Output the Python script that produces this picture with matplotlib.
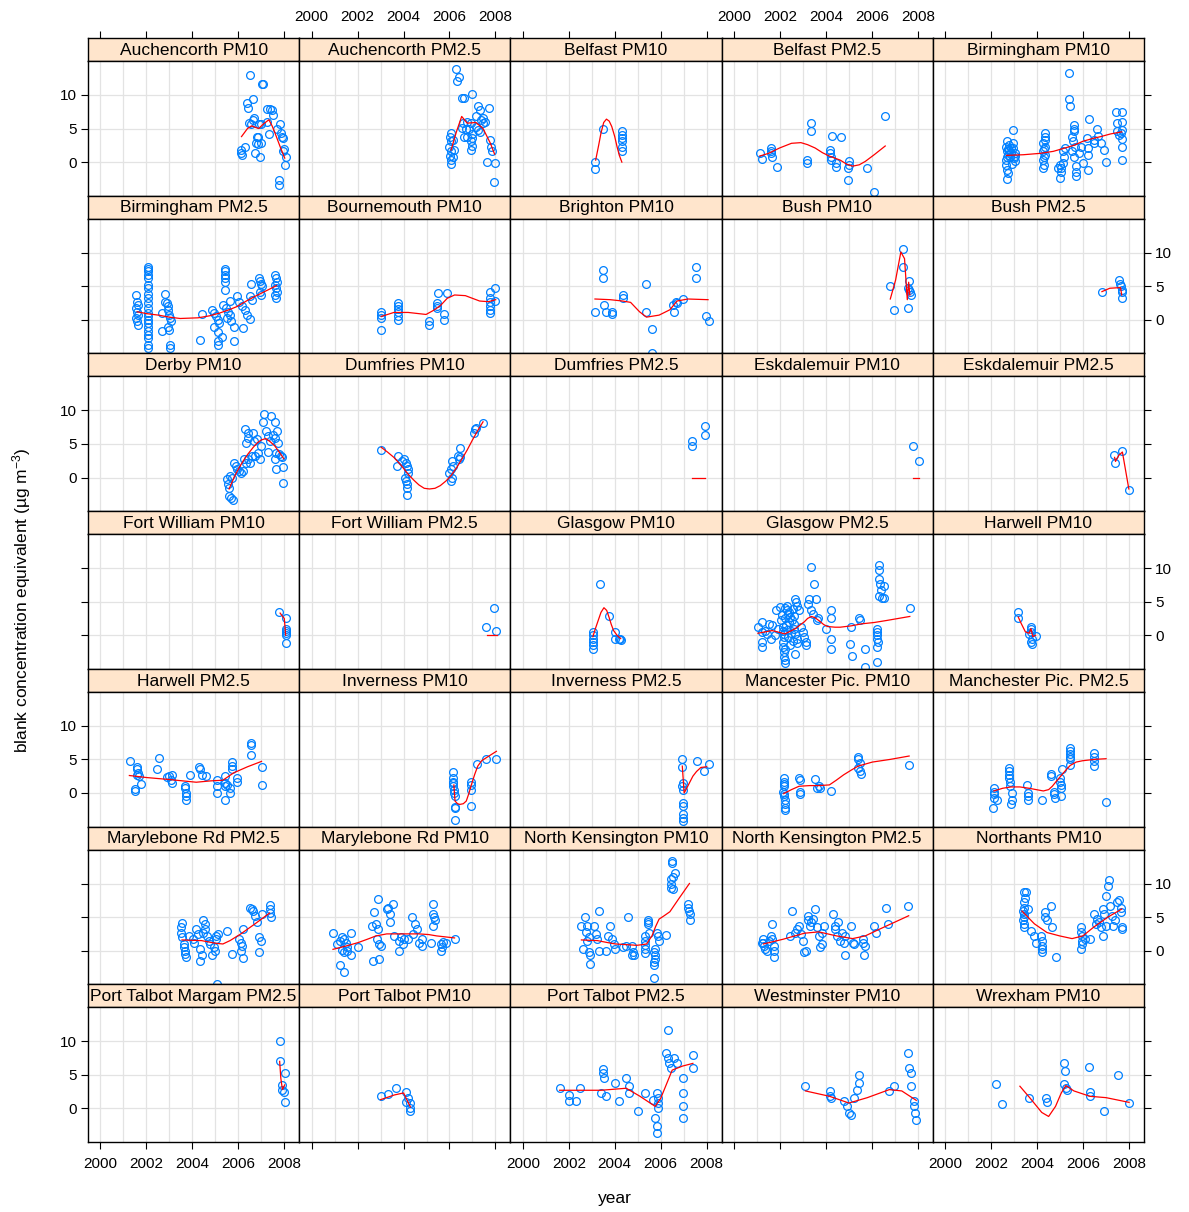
import matplotlib
matplotlib.use("Agg")
import matplotlib.pyplot as plt

plt.rcParams['font.family'] = ['Liberation Sans', 'DejaVu Sans']
plt.rcParams['mathtext.default'] = 'regular'

# ---------------------------------------------------------------------------
# Observations (year, blank concentration equivalent) and smooth fits per site
# ---------------------------------------------------------------------------
auch_pm10 = [(2006.49, 13.0), (2007.05, 11.7), (2007.07, 11.6), (2006.62, 9.4), (2006.36, 8.8), (2006.42, 8.0),
             (2007.25, 7.9), (2007.36, 7.9), (2007.45, 7.8), (2007.53, 7.0), (2006.7, 6.5), (2006.66, 6.2),
             (2006.45, 5.8), (2006.54, 5.7), (2006.9, 5.7), (2006.97, 5.7), (2007.23, 6.0), (2007.82, 5.6),
             (2007.68, 4.9), (2007.33, 4.2), (2007.87, 4.3), (2007.9, 3.8), (2007.93, 3.6), (2006.8, 3.8),
             (2006.87, 3.7), (2006.77, 2.9), (2006.97, 2.8), (2006.87, 2.7), (2006.3, 2.3), (2006.13, 1.8),
             (2006.13, 1.4), (2006.14, 1.0), (2006.73, 1.3), (2006.94, 0.8), (2007.98, 1.9), (2007.95, 1.6),
             (2008.06, 0.8), (2008.02, -0.4), (2007.79, -2.6), (2007.79, -3.4)]
auch_pm10_fit = [(2006.14, 3.8), (2006.4, 5.0), (2006.58, 5.4), (2006.72, 5.2), (2006.89, 5.0), (2007.1, 5.7),
                 (2007.33, 6.3), (2007.47, 5.4), (2007.6, 4.3), (2007.82, 2.3), (2008.02, 0.6)]

auch_pm25 = [(2006.27, 13.8), (2006.42, 12.6), (2006.33, 12.0), (2006.53, 9.5), (2006.63, 9.6), (2007.0, 10.1),
             (2007.23, 8.3), (2007.31, 7.8), (2007.7, 8.0), (2007.15, 6.8), (2007.46, 6.5), (2007.38, 6.2),
             (2007.54, 6.0), (2007.46, 5.8), (2006.6, 5.8), (2006.77, 6.0), (2006.92, 5.8), (2006.56, 5.1),
             (2006.7, 5.0), (2006.84, 4.9), (2007.15, 5.3), (2007.23, 4.8), (2007.31, 4.5), (2006.64, 3.8),
             (2006.77, 3.7), (2006.97, 4.2), (2007.0, 3.6), (2006.92, 3.1), (2006.97, 2.4), (2006.94, 1.8),
             (2006.05, 4.4), (2006.02, 3.7), (2006.05, 3.1), (2006.0, 2.3), (2006.05, 1.6), (2006.02, 0.9),
             (2006.05, 0.3), (2006.05, -0.3), (2006.14, 3.3), (2006.19, 1.8), (2006.14, 0.8), (2007.78, 3.3),
             (2007.81, 2.3), (2007.86, 1.6), (2007.65, 0.0), (2007.96, -0.1), (2007.92, -2.9)]
auch_pm25_fit = [(2006.07, 1.8), (2006.3, 4.5), (2006.53, 6.8), (2006.77, 5.8), (2007.15, 5.9), (2007.46, 5.0),
                 (2007.78, 2.8), (2007.96, 1.2)]

belf_pm10 = [(2003.14, 0.0), (2003.14, -1.0), (2003.48, 5.0), (2004.31, 4.6), (2004.31, 4.1), (2004.31, 3.6),
             (2004.31, 3.1), (2004.31, 2.3), (2004.31, 1.7)]
belf_pm10_fit = [(2003.17, 0.3), (2003.3, 2.5), (2003.4, 4.3), (2003.52, 5.9), (2003.64, 6.4), (2003.76, 6.1),
                 (2003.87, 5.3), (2004.0, 3.8), (2004.1, 2.3), (2004.2, 1.0), (2004.31, 0.0)]

belf_pm25 = [(2001.12, 1.4), (2001.2, 0.5), (2001.63, 2.1), (2001.63, 1.7), (2001.63, 1.3), (2001.66, 0.7),
             (2001.87, -0.7), (2003.33, 5.8), (2003.34, 4.6), (2003.17, 0.3), (2003.17, -0.2), (2004.18, 1.8),
             (2004.18, 1.3), (2004.2, 0.3), (2004.23, 0.8), (2004.28, 3.9), (2004.67, 3.8), (2004.43, -0.1),
             (2004.43, -0.7), (2005.0, 0.1), (2005.0, -0.4), (2004.98, -0.9), (2004.98, -2.7), (2005.8, -0.9),
             (2006.1, -4.4), (2006.58, 6.9)]
belf_pm25_fit = [(2001.12, 0.9), (2001.5, 1.3), (2001.98, 2.1), (2002.5, 2.8), (2002.91, 2.9), (2003.2, 2.6),
                 (2003.53, 2.1), (2003.85, 1.4), (2004.15, 0.9), (2004.62, 0.3), (2004.9, -0.3), (2005.16, -0.6),
                 (2005.45, -0.4), (2005.71, 0.1), (2006.1, 1.1), (2006.58, 2.4)]

birm_pm10 = [(2002.95, 4.8), (2002.71, 3.1), (2002.79, 2.6), (2002.87, 2.1), (2002.64, 2.3), (2002.68, 1.6),
             (2002.75, 1.1), (2002.84, 0.8), (2003.0, 0.6), (2003.03, 0.1), (2002.64, -0.4), (2002.68, -1.1),
             (2002.75, -1.6), (2002.68, -2.5), (2002.95, 2.8), (2003.03, 1.3), (2002.79, 1.8), (2002.87, 1.4),
             (2002.71, 0.8), (2002.95, 2.1), (2002.66, 0.3), (2002.9, -0.3), (2002.72, 2.0), (2003.05, 0.9),
             (2004.35, 4.3), (2004.35, 3.8), (2004.35, 3.3), (2004.27, 2.8), (2004.35, 2.3), (2004.27, 1.6),
             (2004.35, 1.1), (2004.27, 0.3), (2004.3, -0.4), (2004.27, -0.9), (2004.32, 1.9), (2004.3, 0.7),
             (2004.98, -2.4), (2005.05, -0.9), (2005.13, -0.1), (2005.18, 0.8), (2005.21, 2.1), (2005.05, -1.4),
             (2004.9, -0.9), (2005.13, 1.6), (2004.98, -0.4),
             (2005.37, 13.3), (2005.37, 9.4), (2005.41, 8.4), (2005.6, 5.5), (2005.6, 5.0), (2005.6, 4.6),
             (2005.52, 3.8), (2005.57, 3.1), (2005.65, 2.3), (2005.52, 1.6), (2005.6, 0.8), (2005.68, -0.6),
             (2005.68, -1.4), (2005.71, -2.1),
             (2005.91, 2.3), (2005.83, 1.3), (2005.99, -0.1), (2006.15, 3.6), (2006.22, 2.1), (2006.26, 6.4),
             (2006.46, 3.3), (2006.61, 4.9), (2006.65, 3.9), (2006.22, 1.1), (2006.22, -1.1), (2006.46, 2.8),
             (2007.0, 0.0), (2006.93, 1.8), (2006.77, 2.8),
             (2007.43, 7.5), (2007.68, 7.4), (2007.68, 6.0), (2007.71, 4.8), (2007.47, 4.6), (2007.55, 4.1),
             (2007.71, 3.4), (2007.71, 2.3), (2007.71, 0.3), (2007.47, 5.8), (2007.64, 4.3)]
birm_pm10_fit = [(2002.67, 1.0), (2003.4, 1.1), (2004.12, 1.3), (2004.7, 1.6), (2005.21, 2.1), (2005.6, 2.5),
                 (2005.99, 3.1), (2006.4, 3.5), (2006.77, 3.8), (2007.2, 4.2), (2007.68, 4.5)]

birm_pm25 = [(2001.55, 3.7), (2001.6, 2.7), (2001.65, 2.2), (2001.55, 1.7), (2001.6, 1.2), (2001.65, 0.7),
             (2001.55, 0.2), (2001.6, -0.2), (2001.65, -0.7),
             (2002.07, 7.9), (2002.07, 7.6), (2002.07, 7.3), (2002.07, 6.7), (2002.07, 6.2), (2002.07, 5.2),
             (2002.07, 4.7), (2002.07, 3.9), (2002.07, 3.2), (2002.07, 2.5), (2002.07, 1.7), (2002.07, 1.0),
             (2002.07, 0.5), (2002.07, 0.0), (2002.07, -0.5), (2002.07, -1.0), (2002.07, -1.7), (2002.07, -2.2),
             (2002.07, -2.7), (2002.07, -3.7), (2002.07, -4.2),
             (2002.66, 1.0), (2002.81, 3.8), (2002.81, 2.6), (2002.88, 2.5), (2002.92, 2.0), (2002.96, 1.5),
             (2003.0, 0.7), (2003.04, 0.2), (2003.08, -0.2), (2002.96, -1.0), (2003.0, -1.5), (2002.66, -1.6),
             (2003.03, -3.7), (2003.03, -4.2),
             (2004.4, 0.8), (2004.32, -3.0),
             (2004.87, 1.5), (2004.95, 1.0), (2005.02, 0.5), (2005.1, 0.0), (2005.18, -0.5), (2004.95, -1.0),
             (2005.1, -1.8), (2005.1, -3.2), (2005.1, -3.7), (2005.3, -2.5),
             (2005.41, 7.6), (2005.41, 7.2), (2005.41, 6.7), (2005.41, 6.2), (2005.41, 5.7), (2005.41, 4.5),
             (2005.33, 2.2), (2005.45, 1.7), (2005.55, 1.2), (2005.65, 0.7), (2005.5, 0.2), (2005.7, -0.2),
             (2005.8, -1.0), (2005.8, -3.1), (2005.65, 2.8), (2005.93, 3.6),
             (2006.03, 2.7), (2006.15, 2.0), (2006.27, 1.5), (2006.38, 0.7), (2006.5, 0.1), (2006.19, -1.2),
             (2006.5, 3.5), (2006.58, 3.0), (2006.55, 5.4),
             (2006.89, 6.2), (2006.95, 5.8), (2007.0, 5.4), (2007.05, 5.0), (2006.95, 4.2), (2007.0, 3.7),
             (2007.59, 6.7), (2007.63, 6.2), (2007.67, 5.7), (2007.59, 5.2), (2007.63, 4.7), (2007.67, 4.2),
             (2007.59, 3.7), (2007.63, 3.2)]
birm_pm25_fit = [(2001.6, 1.2), (2002.05, 0.9), (2002.53, 0.7), (2003.0, 0.4), (2003.47, 0.2), (2004.25, 0.3),
                 (2004.75, 0.6), (2005.18, 1.0), (2005.6, 1.5), (2005.96, 2.0), (2006.35, 2.8), (2006.73, 3.5),
                 (2007.2, 4.3), (2007.67, 5.1)]

bour_pm10 = [(2003.03, 1.1), (2003.03, 0.7), (2003.03, 0.3), (2003.03, -1.5), (2003.78, 2.5), (2003.78, 2.1),
             (2003.78, 1.6), (2003.78, 1.2), (2003.78, 0.5), (2003.78, 0.0), (2005.1, -0.2), (2005.1, -0.7),
             (2005.44, 2.5), (2005.44, 2.1), (2005.44, 1.7), (2005.52, 4.0), (2005.91, 4.0), (2005.75, 0.8),
             (2005.75, 0.0), (2007.78, 4.2), (2007.78, 3.2), (2007.78, 2.7), (2007.78, 2.1), (2007.78, 1.5),
             (2007.78, 1.0), (2008.0, 4.7), (2008.0, 2.8)]
bour_pm10_fit = [(2003.03, 0.5), (2003.58, 1.1), (2004.2, 1.1), (2004.98, 0.8), (2005.3, 1.4), (2005.6, 2.1),
                 (2005.9, 3.2), (2006.22, 3.7), (2006.69, 3.6), (2007.31, 2.8), (2007.7, 2.7), (2008.01, 3.0)]

brig_pm10 = [(2003.51, 7.4), (2003.51, 6.2), (2003.53, 2.2), (2003.13, 1.2), (2003.6, 1.1), (2003.87, 1.1),
             (2003.87, 0.8), (2004.34, 3.7), (2004.34, 3.2), (2005.34, 5.3), (2005.38, 1.1), (2005.62, -1.4),
             (2005.62, -4.9), (2006.55, 2.2), (2006.58, 1.2), (2006.66, 2.6), (2006.71, 2.5), (2006.97, 3.1),
             (2007.53, 7.8), (2007.53, 6.3), (2007.95, 0.6), (2008.08, -0.1)]
brig_pm10_fit = [(2003.14, 3.1), (2003.8, 3.0), (2004.34, 2.8), (2004.69, 2.6), (2005.08, 1.2), (2005.38, 0.4),
                 (2005.93, 0.7), (2006.4, 1.5), (2006.71, 2.8), (2007.18, 3.1), (2008.06, 3.0)]

bush_pm10 = [(2006.8, 5.1), (2006.95, 1.5), (2007.37, 10.6), (2007.37, 7.9), (2007.62, 5.8), (2007.57, 4.8),
             (2007.62, 4.5), (2007.65, 4.1), (2007.68, 3.7), (2007.57, 1.7)]
bush_pm10_fit = [(2006.8, 3.1), (2007.03, 5.9), (2007.26, 10.1), (2007.42, 9.1), (2007.54, 3.0), (2007.6, 5.6),
                 (2007.65, 3.7)]

bush_pm25 = [(2006.82, 4.1), (2007.55, 5.9), (2007.6, 5.4), (2007.63, 5.0), (2007.68, 4.5), (2007.71, 4.1),
             (2007.68, 3.3)]
bush_pm25_fit = [(2006.82, 4.2), (2007.16, 4.7), (2007.63, 4.8), (2007.68, 3.7)]

derb_pm10 = [(2005.52, -0.2), (2005.57, -1.0), (2005.61, -1.5), (2005.6, -2.7), (2005.68, -3.1), (2005.75, -3.4),
             (2005.65, 0.2), (2005.72, 0.0), (2005.83, 2.2), (2005.88, 1.7), (2005.96, 1.2), (2006.03, 1.0),
             (2006.11, 0.7), (2006.19, 1.0), (2006.24, 2.8), (2006.35, 2.2), (2006.42, 2.7), (2006.5, 2.2),
             (2006.58, 3.2), (2006.3, 7.2), (2006.42, 6.7), (2006.42, 5.9), (2006.35, 5.2), (2006.66, 6.7),
             (2006.7, 5.4), (2006.73, 3.2), (2006.84, 3.7), (2006.94, 2.8), (2006.81, 5.7), (2006.97, 4.7),
             (2007.12, 9.4), (2007.08, 8.2), (2007.2, 6.9), (2007.43, 9.2), (2007.59, 8.3), (2007.28, 3.8),
             (2007.28, 6.2), (2007.51, 6.4), (2007.67, 6.9), (2007.59, 5.9), (2007.36, 5.4), (2007.74, 5.2),
             (2007.64, 3.7), (2007.59, 2.7), (2007.64, 1.3), (2007.79, 3.5), (2007.85, 3.2), (2007.92, 3.0),
             (2007.93, 1.6), (2007.95, -0.8)]
derb_pm10_fit = [(2005.6, -1.7), (2005.8, -0.1), (2005.96, 1.0), (2006.2, 2.4), (2006.42, 3.5), (2006.65, 4.5),
                 (2006.84, 5.2), (2007.0, 5.6), (2007.2, 5.8), (2007.4, 5.3), (2007.59, 4.7), (2007.8, 3.7),
                 (2007.98, 2.8)]

dumf_pm10 = [(2003.03, 4.1), (2003.76, 3.2), (2003.73, 1.7), (2003.93, 2.5), (2004.04, 2.7), (2004.12, 2.2),
             (2004.17, 1.7), (2004.2, 1.2), (2004.2, 0.7), (2004.07, 0.0), (2004.12, -0.5), (2004.17, -1.0),
             (2004.17, -1.5), (2004.17, -2.6), (2005.99, 0.7), (2006.07, 1.2), (2006.1, 0.0), (2006.07, -0.5),
             (2006.14, 1.7), (2006.1, 2.5), (2006.45, 4.4), (2006.38, 3.2), (2006.42, 2.7), (2006.45, 3.0),
             (2007.08, 6.7), (2007.12, 7.2), (2007.15, 7.4), (2007.46, 8.1)]
dumf_pm10_fit = [(2003.03, 4.5), (2003.3, 3.8), (2003.58, 3.0), (2003.9, 1.8), (2004.2, 0.5), (2004.45, -0.4),
                 (2004.67, -1.1), (2004.9, -1.6), (2005.13, -1.7), (2005.37, -1.6), (2005.6, -1.2),
                 (2005.85, -0.5), (2006.07, 0.3), (2006.3, 1.4), (2006.53, 2.7), (2006.77, 4.1), (2007.0, 5.6),
                 (2007.23, 7.0), (2007.46, 8.3)]

dumf_pm25 = [(2007.38, 5.4), (2007.38, 4.7), (2007.92, 7.6), (2007.92, 6.4)]
dumf_pm25_fit = [(2007.38, 0.0), (2007.92, 0.0)]

eskd_pm10 = [(2007.81, 4.7), (2008.04, 2.5)]
eskd_pm10_fit = [(2007.81, 0.0), (2008.04, 0.0)]

eskd_pm25 = [(2007.35, 3.3), (2007.39, 2.2), (2007.71, 3.9), (2007.99, -1.8)]
eskd_pm25_fit = [(2007.37, 3.0), (2007.41, 2.4), (2007.55, 3.3), (2007.71, 3.8), (2007.99, -1.7)]

fwil_pm10 = [(2007.78, 3.5), (2008.06, 2.6), (2008.06, 1.0), (2008.09, 0.6), (2008.06, 0.3), (2008.09, 0.0),
             (2008.07, -1.1)]
fwil_pm10_fit = [(2007.82, 3.3), (2007.95, 2.7), (2008.0, 2.5), (2008.04, 1.0), (2008.06, 0.0)]

fwil_pm25 = [(2007.93, 4.1), (2007.59, 1.2), (2008.04, 0.7)]
fwil_pm25_fit = [(2007.62, 0.0), (2008.06, 0.0)]

glas_pm10 = [(2003.37, 7.6), (2003.75, 2.8), (2003.05, 0.5), (2003.05, 0.0), (2003.05, -0.5), (2003.05, -1.0),
             (2003.05, -1.5), (2003.05, -2.0), (2004.0, 0.5), (2004.03, -0.6), (2004.2, -0.5), (2004.24, -0.6),
             (2004.29, -0.7)]
glas_pm10_fit = [(2003.05, -0.2), (2003.16, 1.0), (2003.28, 2.2), (2003.4, 3.4), (2003.53, 4.1), (2003.65, 3.7),
                 (2003.75, 2.7), (2003.85, 1.6), (2003.95, 0.7), (2004.1, 0.0), (2004.26, -0.5)]

glas_pm25 = [(2001.04, 1.3), (2001.2, 2.0), (2001.2, 0.5), (2001.2, -1.0), (2001.2, -1.7), (2001.35, 0.7),
             (2001.43, 0.2), (2001.54, 1.7), (2001.59, -0.5), (2001.66, 1.5), (2001.82, 3.7), (2001.98, 4.2),
             (2002.05, 2.2), (2002.13, 1.2), (2002.16, 0.2), (2002.16, -0.2), (2002.13, -1.0), (2002.13, -1.7),
             (2002.16, -2.5), (2002.16, -3.2), (2002.21, -3.7), (2002.21, -4.2), (2002.29, 3.7), (2002.36, 3.2),
             (2002.44, 2.7), (2002.52, 2.2), (2002.6, 1.7), (2002.63, 1.0), (2002.67, 0.2), (2002.75, -0.5),
             (2002.75, -1.2), (2002.67, 5.4), (2002.71, 5.0), (2002.75, 4.3), (2002.83, 3.7), (2002.67, -2.8),
             (2002.91, 1.2), (2002.99, 0.5), (2003.06, -0.2), (2003.14, -1.0), (2003.14, -1.5), (2003.22, 4.7),
             (2003.27, 5.4), (2003.37, 3.7), (2003.45, 3.2), (2003.37, 10.2), (2003.5, 7.6), (2003.58, 5.4),
             (2003.61, 2.2), (2003.65, 2.5), (2004.0, 1.0), (2004.23, 3.7), (2004.23, 2.5), (2004.23, -0.5),
             (2004.23, -2.0), (2005.09, 1.2), (2005.04, -1.3), (2005.12, -3.1), (2005.44, 2.5), (2005.49, 2.2),
             (2005.68, -2.0), (2005.68, -4.7), (2006.33, 10.4), (2006.33, 9.7), (2006.33, 8.4), (2006.36, 7.7),
             (2006.41, 6.7), (2006.33, 5.9), (2006.44, 5.6), (2006.52, 5.6), (2006.52, 7.3), (2006.22, 1.0),
             (2006.22, 0.5), (2006.22, 0.0), (2006.22, -0.5), (2006.25, -1.0), (2006.22, -1.7), (2006.22, -4.0),
             (2007.65, 4.0),
             (2002.1, 3.0), (2002.2, 2.6), (2002.25, 1.5), (2002.3, 0.8), (2002.35, -0.3), (2002.4, 1.9),
             (2002.45, -1.4), (2002.5, 0.4), (2002.55, 3.9), (2002.58, -0.8), (2002.2, 4.0), (2002.3, 4.3),
             (2002.15, 0.6), (2002.24, -2.0), (2002.4, 3.4), (2002.62, 2.9), (2001.9, 0.9), (2001.8, 0.0)]
glas_pm25_fit = [(2001.04, 0.3), (2001.35, 0.5), (2001.66, 0.7), (2002.0, 0.4), (2002.21, 0.2), (2002.45, 0.6),
                 (2002.68, 1.0), (2002.9, 1.6), (2003.06, 2.0), (2003.2, 2.5), (2003.37, 2.8), (2003.53, 2.6),
                 (2003.69, 2.2), (2003.9, 1.6), (2004.07, 1.3), (2004.4, 1.2), (2004.62, 1.2), (2005.1, 1.4),
                 (2005.55, 1.7), (2006.1, 1.9), (2006.64, 2.2), (2007.65, 2.8)]

harw_pm10 = [(2003.15, 3.4), (2003.15, 2.5), (2003.73, 1.2), (2003.73, 0.9), (2003.73, 0.5), (2003.78, -0.5),
             (2003.73, -1.0), (2003.78, -1.3), (2003.93, -0.1), (2003.65, 0.2)]
harw_pm10_fit = [(2003.18, 2.7), (2003.3, 1.8), (2003.49, 0.5), (2003.65, 0.3), (2003.73, 1.0), (2003.81, -0.2),
                 (2003.93, 0.0)]

harw_pm25 = [(2001.29, 4.7), (2001.6, 3.9), (2001.6, 3.5), (2001.63, 3.0), (2001.68, 2.5), (2001.6, 2.7),
             (2001.76, 1.4), (2001.52, 0.6), (2001.52, 0.3), (2002.53, 5.2), (2002.46, 3.5), (2002.89, 2.4),
             (2003.0, 2.6), (2003.13, 2.7), (2003.08, 2.0), (2003.13, 1.5), (2003.7, 1.1), (2003.7, 0.7),
             (2003.73, 0.0), (2003.73, -0.5), (2003.73, -1.1), (2003.9, 2.7), (2004.28, 3.9), (2004.35, 3.5),
             (2004.4, 2.7), (2004.6, 2.5), (2005.09, 2.0), (2005.09, 1.1), (2005.09, 0.0), (2005.41, 2.6),
             (2005.41, 1.5), (2005.41, -1.1), (2005.41, 1.0), (2005.49, 1.2), (2005.65, 0.0), (2005.65, 0.7),
             (2005.72, 4.6), (2005.72, 4.0), (2005.72, 3.5), (2005.96, 2.2), (2005.96, 1.7), (2006.55, 7.4),
             (2006.55, 7.1), (2006.55, 5.6), (2007.01, 3.8), (2007.01, 1.2)]
harw_pm25_fit = [(2001.26, 2.6), (2002.0, 2.3), (2003.0, 2.0), (2004.17, 1.6), (2004.8, 1.8), (2005.33, 1.9),
                 (2005.8, 3.0), (2006.4, 3.9), (2007.01, 4.7)]

inve_pm10 = [(2006.14, 3.1), (2006.15, 2.2), (2006.15, 1.7), (2006.15, 1.5), (2006.15, 1.0), (2006.19, 0.5),
             (2006.19, 0.0), (2006.22, -0.5), (2006.22, -2.1), (2006.22, -2.2), (2006.22, -4.0), (2006.95, 1.6),
             (2006.95, 1.2), (2006.95, 0.5), (2006.95, -2.0), (2007.19, 4.3), (2007.58, 5.1), (2008.04, 5.1)]
inve_pm10_fit = [(2006.19, 1.2), (2006.24, -1.2), (2006.35, -1.6), (2006.45, -1.7), (2006.6, -1.6),
                 (2006.73, -1.2), (2006.85, 0.0), (2006.95, 1.2), (2007.1, 2.8), (2007.23, 4.0), (2007.4, 4.8),
                 (2007.58, 5.2), (2008.04, 6.2)]

inve_pm25 = [(2006.94, 5.1), (2006.94, 3.9), (2006.97, 1.5), (2006.94, 1.0), (2006.99, 0.5), (2006.99, -1.5),
             (2006.99, -1.9), (2006.99, -3.2), (2006.99, -3.7), (2006.99, -4.2), (2007.6, 4.8), (2007.88, 3.3),
             (2008.11, 4.3)]
inve_pm25_fit = [(2006.94, 4.0), (2006.98, 2.0), (2007.02, 0.0), (2007.1, 0.5), (2007.25, 1.5), (2007.4, 2.5),
                 (2007.56, 3.2), (2007.75, 3.8), (2008.0, 3.9)]

manc_pm10 = [(2002.16, 2.2), (2002.16, 1.7), (2002.16, 1.3), (2002.16, 1.0), (2002.13, 0.2), (2002.16, -0.1),
             (2002.16, -0.5), (2002.21, -1.0), (2002.21, -1.7), (2002.21, -2.2), (2002.21, -2.6), (2002.83, 2.2),
             (2002.88, 2.0), (2002.88, 0.2), (2002.88, -0.2), (2003.53, 2.1), (2003.69, 1.0), (2003.76, 0.7),
             (2003.61, 0.8), (2004.23, 0.3), (2005.4, 5.4), (2005.4, 5.0), (2005.47, 4.5), (2005.4, 3.7),
             (2005.47, 3.2), (2005.52, 2.8), (2007.62, 4.1)]
manc_pm10_fit = [(2002.16, -0.1), (2002.5, 0.5), (2002.83, 1.0), (2003.3, 1.1), (2003.69, 1.1), (2004.15, 1.2),
                 (2004.45, 1.9), (2004.77, 2.7), (2005.1, 3.4), (2005.4, 4.0), (2006.02, 4.6), (2006.8, 5.0),
                 (2007.62, 5.5)]

manc_pm25 = [(2002.12, 0.7), (2002.12, 0.2), (2002.12, -0.2), (2002.12, -0.8), (2002.09, -2.3), (2002.25, -1.1),
             (2002.79, 3.7), (2002.79, 3.2), (2002.79, 2.7), (2002.76, 2.2), (2002.82, 1.7), (2002.84, 1.1),
             (2002.9, 0.0), (2002.9, -1.0), (2002.87, -1.6), (2003.57, 1.2), (2003.6, 0.0), (2003.6, -0.5),
             (2003.6, -1.0), (2004.23, -1.1), (2004.59, 2.8), (2004.59, 2.5), (2004.74, 0.2), (2004.74, -0.2),
             (2004.77, -0.7), (2004.98, 2.2), (2004.98, 1.7), (2005.05, 1.2), (2005.05, 0.7), (2005.05, -0.5),
             (2005.09, 3.6), (2005.44, 6.7), (2005.44, 6.2), (2005.44, 5.8), (2005.44, 5.4), (2005.44, 5.0),
             (2005.44, 4.2), (2006.46, 5.9), (2006.46, 5.4), (2006.46, 4.7), (2006.46, 4.0), (2007.0, -1.3)]
manc_pm25_fit = [(2002.12, 0.3), (2002.5, 0.7), (2002.87, 0.9), (2003.25, 0.9), (2003.65, 0.7), (2004.27, 0.3),
                 (2004.5, 0.5), (2004.66, 1.0), (2004.85, 1.8), (2005.05, 2.6), (2005.25, 3.4), (2005.44, 4.1),
                 (2005.7, 4.6), (2005.98, 4.8), (2006.5, 5.0), (2007.0, 5.1)]

mary_pm25 = [(2003.55, 4.1), (2003.51, 3.5), (2003.51, 2.7), (2003.55, 2.0), (2003.62, 1.0), (2003.65, 0.5),
             (2003.7, 0.0), (2003.7, -0.5), (2003.73, -1.0), (2003.86, 2.2), (2004.01, 1.7), (2004.09, 1.2),
             (2004.17, 3.2), (2004.25, 2.5), (2004.32, 0.2), (2004.32, -1.5), (2004.4, -0.7), (2004.48, 4.5),
             (2004.53, 4.0), (2004.56, 3.2), (2004.48, 2.7), (2004.63, 2.2), (2004.71, 1.5), (2004.79, 1.0),
             (2004.87, -0.7), (2004.95, 0.5), (2004.99, 0.0), (2005.02, 1.7), (2005.05, 2.2), (2005.1, 2.5),
             (2005.07, -5.0), (2005.52, 3.0), (2005.72, -0.5), (2006.03, 1.7), (2006.11, 1.2), (2006.14, 0.7),
             (2006.19, 3.2), (2006.11, 0.0), (2006.19, -1.1), (2006.5, 6.4), (2006.58, 6.2), (2006.66, 5.9),
             (2006.73, 5.2), (2006.81, 4.2), (2006.89, 2.0), (2006.97, 1.5), (2006.89, -0.2), (2007.36, 6.8),
             (2007.36, 6.2), (2007.36, 5.6), (2007.43, 5.0), (2007.05, 5.4)]
mary_pm25_fit = [(2003.55, 1.6), (2004.4, 1.5), (2005.02, 1.1), (2005.33, 1.0), (2005.64, 1.5), (2006.11, 2.5),
                 (2006.73, 4.0), (2007.36, 5.6)]

mary_pm10 = [(2000.93, 2.6), (2001.09, 1.0), (2001.24, 1.5), (2001.32, 2.1), (2001.4, 1.7), (2001.48, 1.2),
             (2001.52, 0.5), (2001.56, 0.0), (2001.32, 0.1), (2001.4, -0.2), (2001.24, -2.2), (2001.4, -3.2),
             (2001.71, -0.7), (2001.71, 2.7), (2002.02, 0.5), (2002.64, 3.7), (2002.72, 5.7), (2002.8, 4.0),
             (2002.88, 7.7), (2002.83, 1.7), (2002.88, 3.2), (2002.95, 1.0), (2002.67, -1.5), (2002.92, -1.2),
             (2003.03, 0.7), (2003.27, 6.2), (2003.34, 6.4), (2003.42, 5.4), (2003.39, 4.2), (2003.55, 6.9),
             (2003.58, 2.2), (2003.81, 1.5), (2003.89, 2.0), (2003.97, 1.0), (2003.81, 0.0), (2004.04, 1.7),
             (2004.35, 5.0), (2004.51, 4.0), (2004.59, 3.2), (2004.2, 1.7), (2004.82, 1.7), (2004.67, 1.2),
             (2004.43, 2.5), (2005.21, 1.2), (2004.82, 0.7), (2005.29, 6.9), (2005.29, 5.4), (2005.32, 5.0),
             (2005.37, 4.5), (2005.29, 3.7), (2005.63, 1.0), (2005.68, 0.5), (2005.63, -0.1), (2005.72, 1.3),
             (2005.83, 1.2), (2006.22, 1.7)]
mary_pm10_fit = [(2000.93, 0.2), (2001.5, 0.7), (2002.02, 1.2), (2002.5, 1.8), (2002.8, 2.2), (2003.27, 2.5),
                 (2004.0, 2.5), (2004.67, 2.5), (2005.1, 2.4), (2005.44, 2.2), (2006.22, 1.9)]

nken_pm10 = [(2002.52, 3.7), (2002.71, 5.0), (2002.78, 3.7), (2002.75, 2.8), (2002.86, 2.0), (2002.78, 1.5),
             (2002.63, 0.2), (2002.86, -0.2), (2002.91, -0.7), (2002.94, -2.0), (2003.1, 3.7), (2003.3, 5.9),
             (2003.18, 2.5), (2003.25, 1.7), (2003.33, -0.1), (2003.64, -0.1), (2003.8, 3.7), (2003.72, 2.2),
             (2003.87, 1.7), (2003.95, 1.0), (2004.03, 0.3), (2004.34, 0.5), (2004.5, 0.7), (2004.57, 5.0),
             (2004.78, -0.2), (2004.73, -0.6), (2004.77, 0.7), (2004.84, -0.6), (2005.31, 2.2), (2005.31, 1.5),
             (2005.31, 0.8), (2005.31, 0.2), (2005.31, -0.4), (2005.46, 4.5), (2005.46, 4.2), (2005.46, 4.0),
             (2005.5, 2.7), (2005.75, 0.2), (2005.7, -0.2), (2005.75, -0.7), (2005.75, -1.2), (2005.72, -1.7),
             (2005.72, -2.2), (2005.72, -4.0), (2005.86, 2.7), (2005.9, 2.2), (2005.93, 1.5), (2006.21, 2.3),
             (2006.47, 13.4), (2006.47, 13.1), (2006.43, 10.6), (2006.43, 9.9), (2006.44, 9.4), (2006.55, 10.9),
             (2006.63, 11.6), (2006.55, 9.2), (2007.2, 6.9), (2007.2, 6.4), (2007.23, 5.9), (2007.28, 5.4),
             (2007.28, 4.5)]
nken_pm10_fit = [(2002.55, 1.6), (2003.25, 1.5), (2003.7, 1.2), (2004.03, 1.0), (2004.5, 0.9), (2004.96, 0.8),
                 (2005.2, 0.9), (2005.39, 1.0), (2005.5, 1.6), (2005.62, 2.2), (2005.78, 3.6), (2005.93, 4.7),
                 (2006.15, 5.2), (2006.4, 5.8), (2006.8, 7.8), (2007.25, 10.0)]

nken_pm25 = [(2001.28, 1.7), (2001.28, 1.2), (2001.32, 0.7), (2001.35, 0.2), (2001.43, 0.0), (2001.51, 1.5),
             (2001.59, 2.2), (2001.66, 1.7), (2001.74, 0.7), (2001.74, 0.0), (2001.74, -0.9), (2001.66, 3.9),
             (2001.2, 1.1), (2002.44, 2.2), (2002.52, 5.9), (2002.67, 2.7), (2002.75, 3.2), (2002.83, 3.7),
             (2002.91, 2.5), (2002.99, 1.5), (2003.03, -0.2), (2003.14, 0.0), (2003.22, 5.2), (2003.22, 4.5),
             (2003.3, 3.7), (2003.37, 4.2), (2003.45, 4.7), (2003.53, 6.2), (2003.61, 3.5), (2003.69, 2.2),
             (2003.76, 0.5), (2003.84, 1.0), (2003.92, 3.7), (2003.84, 2.7), (2004.31, 5.4), (2004.39, 3.7),
             (2004.39, 3.2), (2004.46, 2.2), (2004.54, 4.2), (2004.62, 1.5), (2004.7, 2.7), (2004.77, 1.2),
             (2004.82, -0.7), (2004.85, 2.2), (2005.09, 3.7), (2005.16, 1.2), (2005.24, 1.0), (2005.63, 1.7),
             (2005.63, 1.2), (2005.66, -0.7), (2005.71, 0.7), (2006.1, 3.7), (2006.17, 2.7), (2006.61, 6.3),
             (2006.72, 4.0), (2007.57, 6.7)]
nken_pm25_fit = [(2001.28, 1.0), (2002.13, 1.7), (2003.06, 2.6), (2003.69, 2.8), (2004.46, 2.2), (2005.16, 1.8),
                 (2005.71, 2.2), (2006.33, 3.2), (2007.6, 5.2)]

nhan_pm10 = [(2003.42, 8.7), (2003.49, 7.9), (2003.42, 7.2), (2003.42, 6.4), (2003.39, 5.9), (2003.42, 5.4),
             (2003.42, 5.0), (2003.39, 4.5), (2003.42, 4.0), (2003.42, 3.5), (2003.53, 8.8), (2003.62, 6.2),
             (2003.73, 3.0), (2003.88, 2.2), (2003.96, 1.2), (2004.15, 2.2), (2004.2, 1.5), (2004.2, 0.7),
             (2004.2, 0.2), (2004.2, -0.2), (2004.35, 5.7), (2004.35, 5.0), (2004.43, 4.5), (2004.59, 6.7),
             (2004.63, 3.5), (2004.82, -1.0), (2005.91, 3.5), (2005.91, 2.8), (2005.96, 2.2), (2005.96, 1.5),
             (2005.96, 1.0), (2005.91, 0.3), (2006.07, 1.7), (2006.3, 1.7), (2006.46, 5.4), (2006.61, 4.7),
             (2006.54, 4.0), (2006.69, 4.2), (2006.77, 3.5), (2006.85, 6.2), (2006.93, 5.4), (2007.0, 3.7),
             (2006.85, 2.2), (2007.0, 8.2), (2007.08, 9.7), (2007.13, 10.5), (2007.16, 6.7), (2007.24, 5.2),
             (2007.32, 3.7), (2007.39, 4.5), (2007.47, 7.2), (2007.58, 7.6), (2007.63, 6.4), (2007.68, 3.2),
             (2007.71, 3.5), (2007.63, 5.7)]
nhan_pm10_fit = [(2003.34, 5.9), (2003.88, 4.0), (2004.43, 2.7), (2004.98, 2.2), (2005.52, 1.8), (2005.99, 2.2),
                 (2006.46, 3.5), (2007.08, 5.0), (2007.68, 6.2)]

ptma_pm25 = [(2007.8, 10.0), (2007.82, 7.0), (2007.88, 3.5), (2007.92, 2.8), (2008.05, 5.3), (2008.05, 1.0),
             (2008.0, 2.5)]
ptma_pm25_fit = [(2007.8, 7.0), (2007.85, 4.5), (2007.92, 2.8), (2008.02, 3.5)]

ptal_pm10 = [(2003.03, 1.8), (2003.33, 2.1), (2003.68, 3.0), (2004.1, 2.4), (2004.2, 1.5), (2004.28, 0.8),
             (2004.28, 0.0), (2004.3, -0.4), (2004.1, 1.0)]
ptal_pm10_fit = [(2003.0, 1.3), (2003.6, 2.0), (2004.0, 2.3), (2004.3, 0.2)]

ptal_pm25 = [(2001.63, 3.0), (2002.0, 2.0), (2002.0, 1.1), (2002.3, 1.1), (2002.5, 3.0), (2003.5, 5.9),
             (2003.5, 5.2), (2003.55, 4.5), (2003.4, 2.3), (2003.6, 1.8), (2004.0, 3.8), (2004.5, 4.5),
             (2004.6, 3.3), (2004.6, 2.3), (2004.2, 1.1), (2005.0, -0.4), (2005.3, 2.3), (2005.65, 1.2),
             (2005.75, -1.5), (2005.85, -2.6), (2005.85, -3.7), (2005.85, 2.3), (2005.9, 1.5), (2005.9, 0.8),
             (2005.9, 0.0), (2006.3, 11.6), (2006.25, 8.2), (2006.3, 7.5), (2006.35, 6.7), (2006.45, 6.0),
             (2006.6, 7.5), (2006.7, 6.7), (2006.95, 4.5), (2006.95, 2.3), (2006.95, 0.3), (2006.95, -1.5),
             (2007.4, 8.0), (2007.4, 6.0)]
ptal_pm25_fit = [(2001.6, 2.7), (2003.4, 2.7), (2004.5, 3.0), (2005.1, 1.8), (2005.76, 0.3), (2006.0, 1.5),
                 (2006.5, 5.7), (2006.95, 6.3), (2007.4, 6.7)]

west_pm10 = [(2003.11, 3.4), (2004.16, 2.6), (2004.16, 1.8), (2004.2, 1.5), (2004.8, 1.1), (2004.93, 0.3),
             (2005.02, -0.7), (2005.11, -1.0), (2005.46, 4.9), (2005.46, 3.8), (2005.37, 2.7), (2005.24, 1.5),
             (2006.76, 2.6), (2006.98, 3.3), (2007.55, 8.2), (2007.63, 6.0), (2007.72, 5.2), (2007.72, 3.3),
             (2007.85, 1.1), (2007.85, 0.3), (2007.88, -0.7), (2007.93, -1.7)]
west_pm10_fit = [(2003.11, 2.6), (2004.16, 1.8), (2005.0, 0.8), (2005.8, 1.6), (2006.76, 2.8), (2007.3, 2.6),
                 (2007.93, 1.2)]

wrex_pm10 = [(2002.2, 3.7), (2002.46, 0.6), (2003.65, 1.5), (2004.4, 1.6), (2004.45, 0.9), (2005.15, 6.8),
             (2005.2, 5.5), (2005.15, 3.6), (2005.25, 3.0), (2005.3, 2.8), (2006.27, 6.2), (2006.3, 2.5),
             (2006.32, 1.8), (2006.9, -0.4), (2007.5, 5.0), (2008.0, 0.8)]
wrex_pm10_fit = [(2003.25, 3.3), (2003.7, 1.5), (2004.2, -0.6), (2004.5, -1.2), (2004.8, 0.3), (2005.05, 2.3),
                 (2005.25, 3.4), (2005.6, 2.6), (2006.3, 1.8), (2007.0, 1.6), (2008.0, 0.9)]

# panel order (left to right, top to bottom)
panels = [
    ("Auchencorth PM10", auch_pm10, auch_pm10_fit),
    ("Auchencorth PM2.5", auch_pm25, auch_pm25_fit),
    ("Belfast PM10", belf_pm10, belf_pm10_fit),
    ("Belfast PM2.5", belf_pm25, belf_pm25_fit),
    ("Birmingham PM10", birm_pm10, birm_pm10_fit),
    ("Birmingham PM2.5", birm_pm25, birm_pm25_fit),
    ("Bournemouth PM10", bour_pm10, bour_pm10_fit),
    ("Brighton PM10", brig_pm10, brig_pm10_fit),
    ("Bush PM10", bush_pm10, bush_pm10_fit),
    ("Bush PM2.5", bush_pm25, bush_pm25_fit),
    ("Derby PM10", derb_pm10, derb_pm10_fit),
    ("Dumfries PM10", dumf_pm10, dumf_pm10_fit),
    ("Dumfries PM2.5", dumf_pm25, dumf_pm25_fit),
    ("Eskdalemuir PM10", eskd_pm10, eskd_pm10_fit),
    ("Eskdalemuir PM2.5", eskd_pm25, eskd_pm25_fit),
    ("Fort William PM10", fwil_pm10, fwil_pm10_fit),
    ("Fort William PM2.5", fwil_pm25, fwil_pm25_fit),
    ("Glasgow PM10", glas_pm10, glas_pm10_fit),
    ("Glasgow PM2.5", glas_pm25, glas_pm25_fit),
    ("Harwell PM10", harw_pm10, harw_pm10_fit),
    ("Harwell PM2.5", harw_pm25, harw_pm25_fit),
    ("Inverness PM10", inve_pm10, inve_pm10_fit),
    ("Inverness PM2.5", inve_pm25, inve_pm25_fit),
    ("Mancester Pic. PM10", manc_pm10, manc_pm10_fit),
    ("Manchester Pic. PM2.5", manc_pm25, manc_pm25_fit),
    ("Marylebone Rd PM2.5", mary_pm25, mary_pm25_fit),
    ("Marylebone Rd PM10", mary_pm10, mary_pm10_fit),
    ("North Kensington PM10", nken_pm10, nken_pm10_fit),
    ("North Kensington PM2.5", nken_pm25, nken_pm25_fit),
    ("Northants PM10", nhan_pm10, nhan_pm10_fit),
    ("Port Talbot Margam PM2.5", ptma_pm25, ptma_pm25_fit),
    ("Port Talbot PM10", ptal_pm10, ptal_pm10_fit),
    ("Port Talbot PM2.5", ptal_pm25, ptal_pm25_fit),
    ("Westminster PM10", west_pm10, west_pm10_fit),
    ("Wrexham PM10", wrex_pm10, wrex_pm10_fit),
]

year_ticks = [2000, 2002, 2004, 2006, 2008]
value_ticks = [0, 5, 10]

# ---------------------------------------------------------------------------
# Layout (pixel geometry of the trellis)
# ---------------------------------------------------------------------------
W, H = 1189, 1212
fig = plt.figure(figsize=(W / 100, H / 100), dpi=100)
fig.patch.set_facecolor('white')

LEFT, RIGHT, TOP, BOTTOM = 88, 1144, 38, 1142
NCOL, NROW = 5, 7
STRIP_H = 23
CW = (RIGHT - LEFT) / NCOL
RH = (BOTTOM - TOP) / NROW
XLIM = (1999.46, 2008.65)
YLIM = (-5.0, 15.05)

STRIP_BG = '#ffe5cc'
GRID_C = '#e3e3e3'
PT_C = '#0080ff'
TICK_KW = dict(direction='out', length=5, width=0.8, labelsize=11, colors='black')


def rect(x, y, w, h):
    return [x / W, 1 - (y + h) / H, w / W, h / H]


for i, (title, pts, fit) in enumerate(panels):
    r, c = divmod(i, NCOL)
    x0 = LEFT + c * CW
    y0 = TOP + r * RH

    # strip
    sax = fig.add_axes(rect(x0, y0, CW, STRIP_H))
    sax.set_facecolor(STRIP_BG)
    sax.set_xlim(XLIM)
    sax.set_ylim(0, 1)
    sax.set_yticks([])
    sax.text(0.5, 0.47, title, transform=sax.transAxes, ha='center', va='center', fontsize=12.5)
    if r == 0:
        sax.set_xticks(year_ticks)
        sax.tick_params(axis='x', bottom=False, labelbottom=False, top=True,
                        labeltop=(c % 2 == 1), pad=5, **TICK_KW)
    else:
        sax.set_xticks([])
    for sp in sax.spines.values():
        sp.set_linewidth(1.0)

    # panel
    ax = fig.add_axes(rect(x0, y0 + STRIP_H, CW, RH - STRIP_H))
    ax.set_xlim(XLIM)
    ax.set_ylim(YLIM)
    for yr in range(2000, 2009):
        ax.axvline(yr, color=GRID_C, lw=0.9, zorder=0)
    for v in value_ticks:
        ax.axhline(v, color=GRID_C, lw=0.9, zorder=0)

    px, py = zip(*pts)
    ax.plot(px, py, 'o', mfc='none', mec=PT_C, ms=5.6, mew=0.9, zorder=2)
    fx, fy = zip(*fit)
    ax.plot(fx, fy, color='red', lw=0.9, zorder=3)

    ax.set_xticks(year_ticks)
    ax.set_yticks(value_ticks)
    last = (r == NROW - 1)
    ax.tick_params(axis='x', top=False, labeltop=False, bottom=last,
                   labelbottom=(last and c % 2 == 0), pad=6, **TICK_KW)
    ax.tick_params(axis='y', left=(c == 0), labelleft=(c == 0 and r % 2 == 0),
                   right=(c == NCOL - 1), labelright=(c == NCOL - 1 and r % 2 == 1), pad=3, **TICK_KW)
    for sp in ax.spines.values():
        sp.set_linewidth(1.0)

fig.text(615 / W, 1 - 1198 / H, 'year', ha='center', va='center', fontsize=12.5)
fig.text(22 / W, 1 - 600 / H, 'blank concentration equivalent (µg m$^{-3}$)',
         ha='center', va='center', rotation=90, fontsize=12.5)

fig.savefig('out.png', dpi=100)
